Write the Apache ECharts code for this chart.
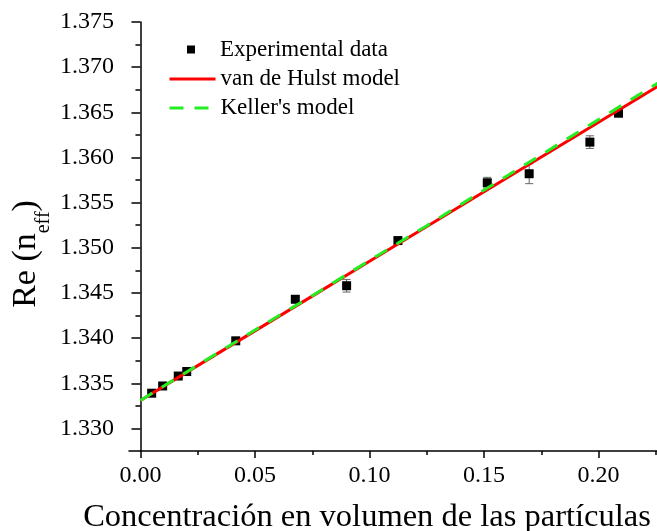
<!DOCTYPE html>
<html><head><meta charset="utf-8">
<script src="https://cdn.jsdelivr.net/npm/echarts@6/dist/echarts.min.js"></script>
<style>html,body{margin:0;padding:0;background:#fff}#c{width:657px;height:531px}</style>
</head><body><div id="c"></div>
<script>
// ---- data ----
const expX   = [0.0049, 0.0097, 0.0165, 0.0202, 0.0416, 0.0676, 0.0900, 0.1124, 0.1514, 0.1697, 0.1962, 0.2087];
const expY   = [1.3339, 1.3347, 1.3358, 1.3363, 1.3397, 1.3443, 1.3458, 1.3508, 1.3572, 1.3582, 1.3617, 1.3649];
const expErr = [0.0002, 0.0002, 0.0002, 0.0002, 0.0002, 0.0002, 0.0007, 0.0002, 0.0006, 0.0011, 0.0007, 0.0003];
const modelX  = [0, 0.025, 0.05, 0.075, 0.1, 0.125, 0.15, 0.175, 0.2, 0.225, 0.23];
const hulstY  = [1.3331, 1.33695, 1.3408, 1.34465, 1.3485, 1.35235, 1.3562, 1.36005, 1.3639, 1.36775, 1.3685];
const kellerY = [1.3331, 1.3370, 1.3409, 1.3447, 1.3486, 1.35245, 1.3564, 1.3603, 1.3642, 1.3681, 1.3689];
const xMajor = [0, 0.05, 0.10, 0.15, 0.20];
const xMinor = [0.025, 0.075, 0.125, 0.175, 0.225];
const yMajor = [1.330, 1.335, 1.340, 1.345, 1.350, 1.355, 1.360, 1.365, 1.370, 1.375];
const yMinor = [1.3325, 1.3375, 1.3425, 1.3475, 1.3525, 1.3575, 1.3625, 1.3675, 1.3725];
const seriesNames = ['Experimental data', 'van de Hulst model', "Keller's model"];
const xTitle = 'Concentración en volumen de las partículas';

const FF = '"Liberation Serif", "Times New Roman", serif';
const chart = echarts.init(document.getElementById('c'), null, {renderer: 'canvas'});
const axLine = {lineStyle: {color: '#000', width: 1.5}};
const tickStyle = {color: '#000', width: 1.5};
const xr = {min: -0.005, max: 0.2255};
const yr = {min: 1.3275, max: 1.375};
const legText = {fontSize: 23, fontFamily: FF, color: '#000'};

const option = {
  animation: false,
  backgroundColor: '#fff',
  grid: {left: 129, top: 22, right: 0, bottom: 80, containLabel: false},
  xAxis: [
    Object.assign({type: 'value', position: 'bottom', axisLine: axLine,
      axisTick: {customValues: xMajor, length: 7, lineStyle: tickStyle},
      axisLabel: {customValues: xMajor, formatter: v => v.toFixed(2), fontSize: 24, fontFamily: FF, color: '#000', margin: 13},
      splitLine: {show: false}}, xr),
    Object.assign({type: 'value', position: 'bottom', axisLine: {show: false},
      axisTick: {customValues: xMinor, length: 4, lineStyle: tickStyle},
      axisLabel: {show: false}, splitLine: {show: false}}, xr)
  ],
  yAxis: [
    Object.assign({type: 'value', position: 'left', axisLine: axLine,
      axisTick: {customValues: yMajor, length: 9, lineStyle: tickStyle},
      axisLabel: {customValues: yMajor, formatter: v => v.toFixed(3), fontSize: 24, fontFamily: FF, color: '#000', margin: 15},
      splitLine: {show: false}}, yr),
    Object.assign({type: 'value', position: 'left', axisLine: {show: false},
      axisTick: {customValues: yMinor, length: 5, lineStyle: tickStyle},
      axisLabel: {show: false}, splitLine: {show: false}}, yr)
  ],
  legend: [
    {data: [seriesNames[0]], left: 187, top: 38, padding: 0, itemWidth: 8, itemHeight: 8, icon: 'rect', selectedMode: false,
      itemStyle: {color: '#000', opacity: 1},
      textStyle: Object.assign({padding: [0, 0, 0, 20]}, legText)},
    {data: [seriesNames[1]], left: 168, top: 67.5, padding: 0, itemWidth: 46, itemHeight: 14, selectedMode: false,
      itemStyle: {opacity: 0, borderWidth: 0}, lineStyle: {width: 3}, textStyle: legText},
    {data: [seriesNames[2]], left: 168, top: 96.5, padding: 0, itemWidth: 46, itemHeight: 14, selectedMode: false,
      itemStyle: {opacity: 0, borderWidth: 0}, lineStyle: {width: 3}, textStyle: legText}
  ],
  graphic: [
    {type: 'text', x: 367, y: 517, z: 10,
      style: {text: xTitle, fontSize: 32.5, fontFamily: FF, fill: '#000', align: 'center', verticalAlign: 'middle'}},
    {type: 'text', x: 26, y: 254, rotation: Math.PI / 2, z: 10,
      style: {text: 'Re (n{sub|eff})', fontSize: 34, fontFamily: FF, fill: '#000', align: 'center', verticalAlign: 'middle', lineHeight: 56,
        rich: {sub: {fontSize: 20, fontFamily: FF, fill: '#000', verticalAlign: 'bottom', lineHeight: 20}}}}
  ],
  series: [
    {type: 'custom', xAxisIndex: 0, yAxisIndex: 0, z: 1, silent: true,
      data: expX.map((x, i) => [x, expY[i], expErr[i]]),
      encode: {x: 0, y: 1},
      renderItem: function (params, api) {
        const x = api.value(0), y = api.value(1), e = api.value(2);
        const t = api.coord([x, y + e]), b = api.coord([x, y - e]);
        const hw = 4, st = {stroke: '#666', lineWidth: 1};
        return {type: 'group', children: [
          {type: 'line', shape: {x1: t[0], y1: t[1], x2: b[0], y2: b[1]}, style: st},
          {type: 'line', shape: {x1: t[0] - hw, y1: t[1], x2: t[0] + hw, y2: t[1]}, style: st},
          {type: 'line', shape: {x1: b[0] - hw, y1: b[1], x2: b[0] + hw, y2: b[1]}, style: st}
        ]};
      }},
    {name: seriesNames[0], type: 'scatter', xAxisIndex: 0, yAxisIndex: 0, z: 2,
      symbol: 'rect', symbolSize: 9, itemStyle: {color: '#000', opacity: 1},
      data: expX.map((x, i) => [x, expY[i]])},
    {name: seriesNames[1], type: 'line', xAxisIndex: 0, yAxisIndex: 0, z: 3,
      symbol: 'none', showSymbol: false, lineStyle: {color: '#ff0000', width: 3}, itemStyle: {color: '#ff0000'},
      data: modelX.map((x, i) => [x, hulstY[i]])},
    {name: seriesNames[2], type: 'line', xAxisIndex: 0, yAxisIndex: 0, z: 4,
      symbol: 'none', showSymbol: false, lineStyle: {color: '#22ee22', width: 3, type: [14, 11]}, itemStyle: {color: '#22ee22'},
      data: modelX.map((x, i) => [x, kellerY[i]])}
  ]
};
chart.setOption(option);
</script>
</body></html>
